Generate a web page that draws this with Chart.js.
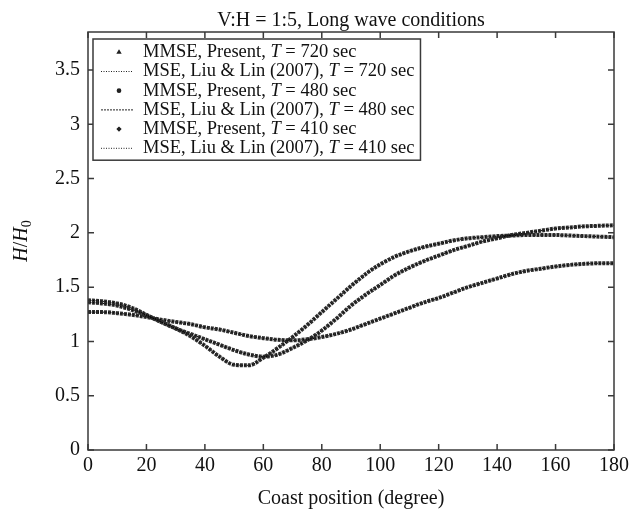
<!DOCTYPE html>
<html>
<head>
<meta charset="utf-8">
<script src="https://cdn.jsdelivr.net/npm/chart.js@4.4.1/dist/chart.umd.min.js"></script>
<style>
  html, body { margin: 0; padding: 0; background: #fff; }
</style>
</head>
<body>
<canvas id="myChart" width="637" height="516"></canvas>
<script>
// Coast position (degree) of the samples
const degrees = [0, 5, 10, 15, 20, 25, 30, 35, 40, 45, 50, 55, 60, 65, 70, 75, 80, 85, 90,
    95, 100, 105, 110, 115, 120, 125, 130, 135, 140, 145, 150, 155, 160, 165, 170, 175, 180];

// H/H0, T = 720 sec
const h720 = [1.27, 1.27, 1.26, 1.245, 1.225, 1.20, 1.18, 1.16, 1.13, 1.11, 1.08, 1.05, 1.03,
    1.015, 1.01, 1.02, 1.04, 1.07, 1.11, 1.16, 1.21, 1.26, 1.31, 1.36, 1.40, 1.45, 1.50, 1.54,
    1.58, 1.62, 1.65, 1.67, 1.69, 1.705, 1.715, 1.72, 1.72];
// H/H0, T = 480 sec
const h480 = [1.36, 1.35, 1.33, 1.29, 1.24, 1.18, 1.12, 1.07, 1.02, 0.97, 0.92, 0.88, 0.86,
    0.88, 0.94, 1.01, 1.10, 1.21, 1.33, 1.43, 1.52, 1.61, 1.68, 1.74, 1.79, 1.84, 1.88, 1.92,
    1.95, 1.98, 2.00, 2.02, 2.04, 2.05, 2.06, 2.065, 2.07];
// H/H0, T = 410 sec
const h410 = [1.38, 1.37, 1.35, 1.31, 1.245, 1.18, 1.12, 1.05, 0.96, 0.86, 0.785, 0.78, 0.85,
    0.94, 1.04, 1.15, 1.27, 1.39, 1.51, 1.62, 1.71, 1.78, 1.83, 1.87, 1.90, 1.93, 1.95, 1.96,
    1.97, 1.975, 1.98, 1.98, 1.98, 1.975, 1.97, 1.965, 1.96];

const periods = ['720', '480', '410'];
const markers = ['triangle', 'circle', 'rectRot'];
const mseDash = [[1, 1.5], [2, 1], [1, 1.5]];

const SERIF = '"Liberation Serif", "Times New Roman", serif';

function toPoints(values) {
    return degrees.map((d, i) => ({ x: d, y: values[i] }));
}

const curves = [h720, h480, h410];
const datasets = [];
curves.forEach((vals, k) => {
    datasets.push({
        label: 'MMSE, Present, T = ' + periods[k] + ' sec',
        data: toPoints(vals),
        borderColor: '#2d2d2d',
        borderWidth: 4,
        borderDash: [3, 1],
        pointRadius: 0,
        cubicInterpolationMode: 'monotone',
        order: 1,
        marker: markers[k]
    });
    datasets.push({
        label: 'MSE, Liu & Lin (2007), T = ' + periods[k] + ' sec',
        data: toPoints(vals),
        borderColor: '#000',
        borderWidth: 1,
        borderDash: [1, 1.5],
        pointRadius: 0,
        cubicInterpolationMode: 'monotone',
        order: 0,
        dash: mseDash[k]
    });
});

// box, inward ticks and the H/H0 axis title
const frameTicks = {
    id: 'frameTicks',
    afterDatasetsDraw(chart) {
        const { ctx, chartArea: a, scales: { x, y } } = chart;
        ctx.save();
        ctx.strokeStyle = '#3a3a3a';
        ctx.lineWidth = 1.5;
        ctx.strokeRect(a.left, a.top, a.right - a.left, a.bottom - a.top);
        ctx.beginPath();
        x.ticks.forEach(t => {
            const px = x.getPixelForValue(t.value);
            ctx.moveTo(px, a.bottom); ctx.lineTo(px, a.bottom - 6);
            ctx.moveTo(px, a.top); ctx.lineTo(px, a.top + 6);
        });
        y.ticks.forEach(t => {
            const py = y.getPixelForValue(t.value);
            ctx.moveTo(a.left, py); ctx.lineTo(a.left + 6, py);
            ctx.moveTo(a.right, py); ctx.lineTo(a.right - 6, py);
        });
        ctx.stroke();

        // y title: H/H0
        const parts = [
            { t: 'H', f: 'italic 20px ' + SERIF, dy: 0 },
            { t: '/', f: '20px ' + SERIF, dy: 0 },
            { t: 'H', f: 'italic 20px ' + SERIF, dy: 0 },
            { t: '0', f: '14px ' + SERIF, dy: 5 }
        ];
        let w = 0;
        parts.forEach(p => { ctx.font = p.f; p.w = ctx.measureText(p.t).width; w += p.w; });
        ctx.translate(22, (a.top + a.bottom) / 2);
        ctx.rotate(-Math.PI / 2);
        ctx.fillStyle = '#111';
        ctx.textBaseline = 'middle';
        let cx = -w / 2;
        parts.forEach(p => {
            ctx.font = p.f;
            ctx.fillText(p.t, cx, p.dy);
            cx += p.w;
        });
        ctx.restore();
    }
};

// legend in a box at the top left of the plot
const boxLegend = {
    id: 'boxLegend',
    afterDraw(chart) {
        const { ctx, chartArea: a } = chart;
        const left = a.left + 5, top = a.top + 7;
        const rowH = 19.2, firstRow = top + 13.3;
        const textX = left + 50;
        const font = '18.5px ' + SERIF, italic = 'italic 18.5px ' + SERIF;
        ctx.save();
        ctx.textBaseline = 'middle';
        let maxW = 0;
        const rows = chart.data.datasets.map(ds => {
            const [head, tail] = ds.label.split('T = ');
            ctx.font = font;
            const hw = ctx.measureText(head).width;
            const tw = ctx.measureText(' = ' + tail).width;
            ctx.font = italic;
            const iw = ctx.measureText('T').width;
            maxW = Math.max(maxW, hw + iw + tw);
            return { ds, head, tail, hw, iw };
        });
        const boxW = textX - left + maxW + 6;
        const boxH = rowH * rows.length + 6;
        ctx.fillStyle = '#fff';
        ctx.fillRect(left, top, boxW, boxH);
        ctx.strokeStyle = '#3a3a3a';
        ctx.lineWidth = 1.5;
        ctx.strokeRect(left, top, boxW, boxH);

        rows.forEach((r, i) => {
            const yy = firstRow + i * rowH;
            const mx = left + 26;
            ctx.fillStyle = '#222';
            ctx.strokeStyle = '#222';
            if (r.ds.marker) {
                Chart.helpers.drawPoint(ctx, { pointStyle: r.ds.marker, radius: 1.6, borderWidth: 1, rotation: 0 }, mx, yy);
                ctx.fill();
            } else {
                ctx.save();
                ctx.lineWidth = 1;
                ctx.setLineDash(r.ds.dash);
                ctx.beginPath();
                ctx.moveTo(left + 8, yy);
                ctx.lineTo(left + 40, yy);
                ctx.stroke();
                ctx.restore();
            }
            ctx.fillStyle = '#111';
            ctx.font = font;
            ctx.fillText(r.head, textX, yy);
            ctx.font = italic;
            ctx.fillText('T', textX + r.hw, yy);
            ctx.font = font;
            ctx.fillText(' = ' + r.tail, textX + r.hw + r.iw, yy);
        });
        ctx.restore();
    }
};

new Chart(document.getElementById('myChart'), {
    type: 'line',
    data: { datasets: datasets },
    options: {
        responsive: false,
        animation: false,
        layout: { padding: { left: 0, right: 23, top: 0, bottom: 0 } },
        plugins: {
            legend: { display: false },
            tooltip: { enabled: false },
            title: {
                display: true,
                fullSize: false,
                text: 'V:H = 1:5, Long wave conditions',
                color: '#111',
                font: { family: SERIF, size: 20, weight: 'normal', lineHeight: '23px' },
                padding: { top: 9, bottom: 0 }
            }
        },
        scales: {
            x: {
                type: 'linear',
                min: 0,
                max: 180,
                afterFit: s => { s.height = 66; },
                grid: { display: false, drawTicks: false },
                border: { display: false },
                ticks: {
                    stepSize: 20,
                    padding: 4,
                    color: '#111',
                    maxRotation: 0,
                    font: { family: SERIF, size: 20 }
                },
                title: {
                    display: true,
                    text: 'Coast position (degree)',
                    color: '#111',
                    font: { family: SERIF, size: 20 },
                    padding: { top: 6, bottom: 5 }
                }
            },
            y: {
                min: 0,
                max: 3.85,
                afterFit: s => { s.width = 88; },
                grid: { display: false, drawTicks: false },
                border: { display: false },
                ticks: {
                    stepSize: 0.5,
                    includeBounds: false,
                    padding: 8,
                    color: '#111',
                    font: { family: SERIF, size: 20 },
                    callback: v => String(Math.round(v * 10) / 10)
                }
            }
        }
    },
    plugins: [frameTicks, boxLegend]
});
</script>
</body>
</html>
